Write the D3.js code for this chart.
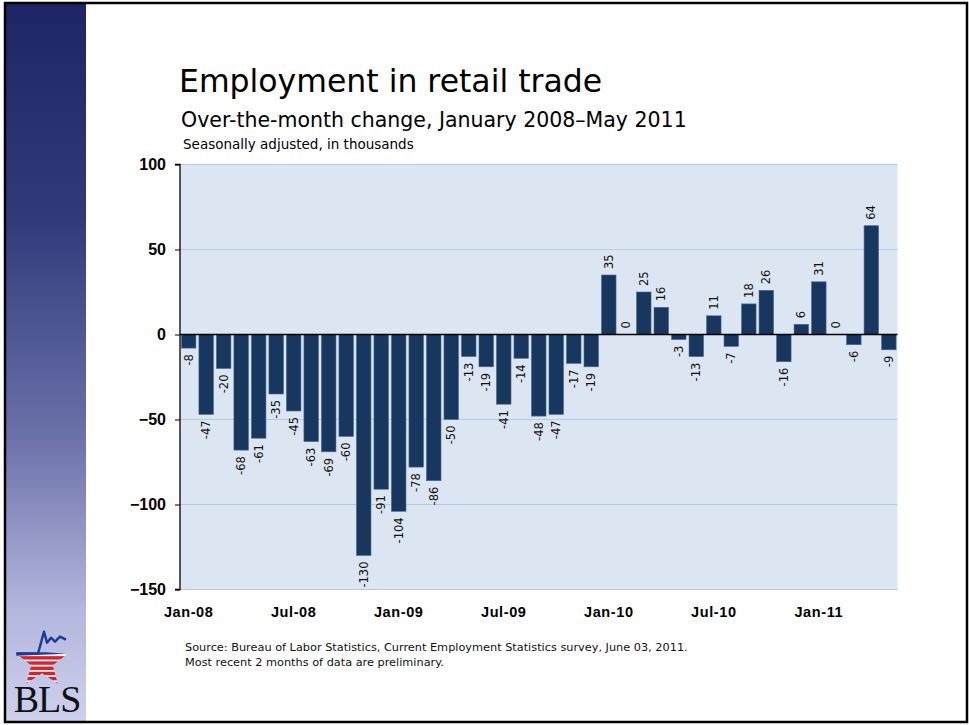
<!DOCTYPE html>
<html><head><meta charset="utf-8">
<script src="https://cdn.jsdelivr.net/npm/d3@7"></script>
<style>body{margin:0;background:#fff}svg{display:block}</style>
</head><body>
<script>
const months = ["Jan-08","Feb-08","Mar-08","Apr-08","May-08","Jun-08","Jul-08","Aug-08","Sep-08","Oct-08","Nov-08","Dec-08",
"Jan-09","Feb-09","Mar-09","Apr-09","May-09","Jun-09","Jul-09","Aug-09","Sep-09","Oct-09","Nov-09","Dec-09",
"Jan-10","Feb-10","Mar-10","Apr-10","May-10","Jun-10","Jul-10","Aug-10","Sep-10","Oct-10","Nov-10","Dec-10",
"Jan-11","Feb-11","Mar-11","Apr-11","May-11"];
const values = [-8,-47,-20,-68,-61,-35,-45,-63,-69,-60,-130,-91,
-104,-78,-86,-50,-13,-19,-41,-14,-48,-47,-17,-19,
35,0,25,16,-3,-13,11,-7,18,26,-16,6,
31,0,-6,64,-9];
const xTickLabels = ["Jan-08","Jul-08","Jan-09","Jul-09","Jan-10","Jul-10","Jan-11"];
const yTicks = [100,50,0,-50,-100,-150];
const title = "Employment in retail trade";
const subtitle = "Over-the-month change, January 2008\u2013May 2011";
const unitNote = "Seasonally adjusted, in thousands";
const sourceLines = ["Source: Bureau of Labor Statistics, Current Employment Statistics survey, June 03, 2011.",
"Most recent 2 months of data are preliminary."];

(function(){
const W = 969, H = 725;
const svg = d3.select("body").append("svg").attr("width", W).attr("height", H);
const defs = svg.append("defs");
const grad = defs.append("linearGradient").attr("id","side").attr("x1",0).attr("y1",0).attr("x2",0).attr("y2",1);
grad.append("stop").attr("offset","0").attr("stop-color","#1d2566");
grad.append("stop").attr("offset","0.3").attr("stop-color","#313b7c");
grad.append("stop").attr("offset","0.6").attr("stop-color","#6a70a8");
grad.append("stop").attr("offset","0.85").attr("stop-color","#b4b7de");
grad.append("stop").attr("offset","1").attr("stop-color","#cdd0ec");

// sidebar
svg.append("rect").attr("x",6).attr("y",4).attr("width",80).attr("height",717).attr("fill","url(#side)");

// BLS logo
const cx0 = 42, cy0 = 662, R = 27;
const logo = svg.append("g").attr("transform",`translate(${cx0},${cy0})`);
const starPts = d3.range(10).map(i => {
  const r = i % 2 === 0 ? R : R*0.42;
  const a = -Math.PI/2 + i*Math.PI/5;
  return [r*Math.cos(a), r*Math.sin(a)];
});
const armY = -R*Math.sin(Math.PI/10);
defs.append("clipPath").attr("id","starclip").append("polygon").attr("points", starPts.map(p=>p.join(",")).join(" "));
const sg = logo.append("g").attr("clip-path","url(#starclip)");
sg.append("rect").attr("x",-30).attr("y",armY).attr("width",60).attr("height",40).attr("fill","#f4f4f8");
d3.range(6).forEach(i => {
  sg.append("rect").attr("x",-30).attr("y",armY + 2.5 + i*5.2).attr("width",60).attr("height",3.4).attr("fill","#d3252d");
});
logo.append("path").attr("d",`M${-R*0.95},${armY} L-4,${armY} L2,${armY-22} L5,${armY-11} L9,${armY-16} L13,${armY-12} L18,${armY-17} L24,${armY-14}`)
  .attr("fill","none").attr("stroke","#1f3a93").attr("stroke-width",2.4).attr("stroke-linejoin","round");
logo.append("path").attr("d",`M${-R*0.95},${armY-1.5} L4,${armY-1.5} L${R*0.9},${armY} L${-R*0.95},${armY+2}Z`).attr("fill","#1f3a93");
svg.append("text").attr("x",47).attr("y",712).attr("text-anchor","middle")
  .attr("font-family","Liberation Serif, serif").attr("font-size",38).attr("fill","#111").attr("letter-spacing",-1).text("BLS");

// outer border
svg.append("rect").attr("x",5).attr("y",3).attr("width",962).attr("height",719)
  .attr("fill","none").attr("stroke","#000").attr("stroke-width",2.5);

// titles
svg.append("text").attr("x",179).attr("y",92).attr("font-family","DejaVu Sans").attr("font-size",31.5)
  .attr("fill","#000").text(title);
svg.append("text").attr("x",181).attr("y",127).attr("font-family","DejaVu Sans").attr("font-size",20.5)
  .attr("fill","#000").text(subtitle);
svg.append("text").attr("x",183).attr("y",149).attr("font-family","DejaVu Sans").attr("font-size",13.5)
  .attr("fill","#000").text(unitNote);

// chart
const pL = 180, pR = 897.5, pT = 164.5, pB = 589.5;
const x = d3.scaleBand().domain(months).range([pL,pR]).paddingInner(0.17).paddingOuter(0.08);
const y = d3.scaleLinear().domain([-150,100]).range([pB,pT]);

svg.append("rect").attr("x",pL).attr("y",pT).attr("width",pR-pL).attr("height",pB-pT).attr("fill","#dce6f2");
svg.append("g").selectAll("line").data(yTicks).join("line")
  .attr("x1",pL).attr("x2",pR).attr("y1",d=>y(d)).attr("y2",d=>y(d))
  .attr("stroke","#b7cae4").attr("stroke-width",1);

svg.append("g").selectAll("rect").data(values).join("rect")
  .attr("x",(d,i)=>x(months[i])).attr("width",x.bandwidth())
  .attr("y",d=>y(Math.max(0,d))).attr("height",d=>Math.abs(y(d)-y(0)))
  .attr("fill","#17375e").attr("stroke","#4a6a94").attr("stroke-width",0.6);

// zero line
svg.append("line").attr("x1",pL).attr("x2",pR).attr("y1",y(0)).attr("y2",y(0)).attr("stroke","#000").attr("stroke-width",1.3);

// y axis
const yAxis = d3.axisLeft(y).tickValues(yTicks).tickSize(5).tickPadding(9).tickFormat(d3.format("d"));
const ya = svg.append("g").attr("transform",`translate(${pL},0)`).call(yAxis);
ya.select(".domain").attr("stroke","#000").attr("stroke-width",1.3).attr("d",`M-5,${pT}H0V${pB}H-5`);
ya.selectAll(".tick line").attr("stroke","#000");
ya.selectAll("text").attr("font-family","Liberation Sans, Arial").attr("font-weight","bold").attr("font-size",16).attr("fill","#000");

// x axis labels
const xAxis = d3.axisBottom(x).tickValues(xTickLabels).tickSize(0).tickPadding(17);
const xa = svg.append("g").attr("transform",`translate(0,${pB})`).call(xAxis);
xa.select(".domain").remove();
xa.selectAll("text").attr("font-family","Liberation Sans, Arial").attr("font-weight","bold").attr("font-size",14.5)
  .attr("letter-spacing",0.6).attr("fill","#000");

// value labels
svg.append("g").selectAll("text").data(values).join("text")
  .attr("transform",(d,i)=>{
    const cx = x(months[i]) + x.bandwidth()/2 + 4;
    const yy = d >= 0 ? y(d) - 6 : y(d) + 6;
    return `translate(${cx},${yy}) rotate(-90)`;
  })
  .attr("text-anchor",d=>d>=0?"start":"end")
  .attr("font-family","DejaVu Sans").attr("font-size",11.5).attr("fill","#111")
  .text(d=>d);

// source
svg.append("g").selectAll("text").data(sourceLines).join("text")
  .attr("x",185).attr("y",(d,i)=>651+i*14.5)
  .attr("font-family","DejaVu Sans").attr("font-size",11.3).attr("fill","#111")
  .text(d=>d);
})();
</script>
</body></html>
